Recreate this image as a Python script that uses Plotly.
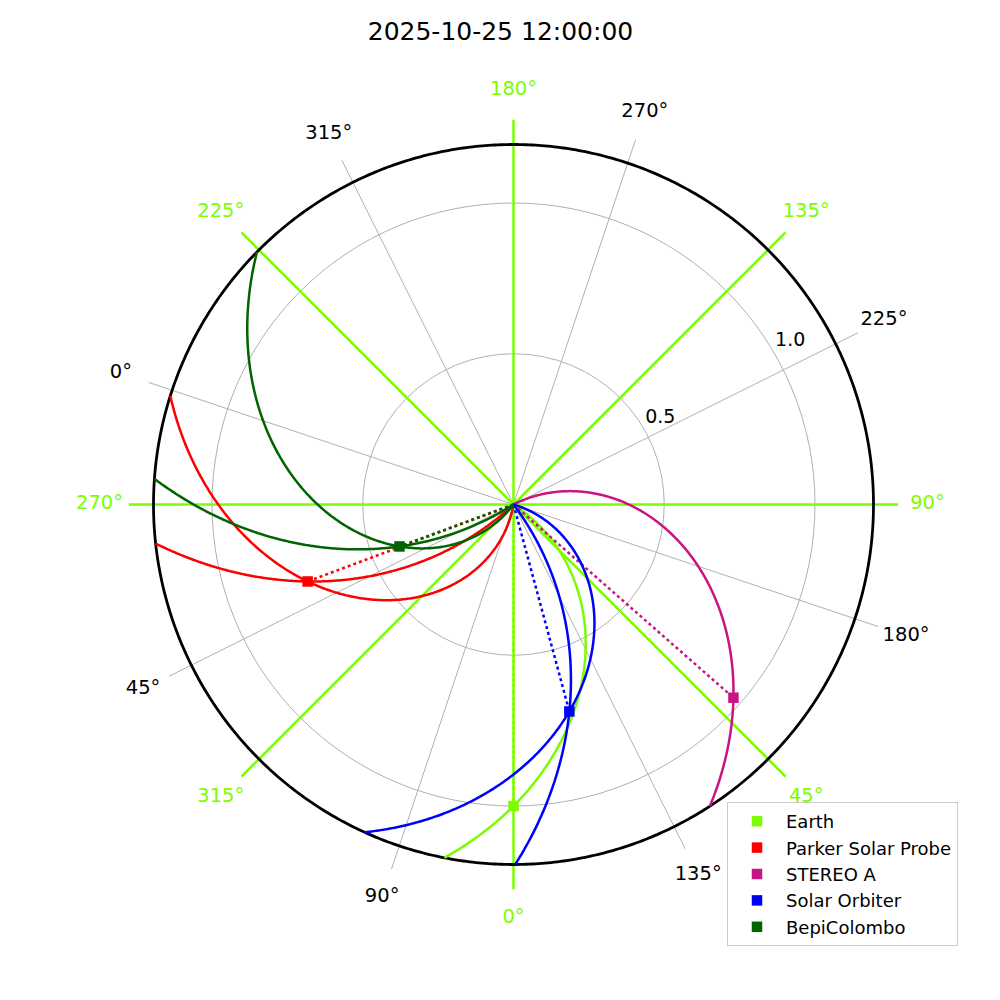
import numpy as np
import plotly.graph_objects as go

# ---------------- data ----------------
title_text = "2025-10-25 12:00:00"
body_names = ["Earth", "Parker Solar Probe", "STEREO A", "Solar Orbiter", "BepiColombo"]
body_colors = ["#7CFC00", "#FF0000", "#C71585", "#0000FF", "#006400"]
body_r_au = [1.0, 0.729, 0.971, 0.711, 0.403]          # heliocentric distance (AU)
body_lon_stony = [0.0, -69.5, 48.7, 15.1, -69.8]       # Stonyhurst longitude (deg)
body_vsw = [[430], [300, 800], [350], [300, 800], [300, 800]]  # solar wind speeds (km/s)
earth_carr_lon = 108.5                                  # Carrington longitude of Earth (deg)

stony_ticks = [0, 45, 90, 135, 180, 225, 270, 315]
carr_ticks = [0, 45, 90, 135, 180, 225, 270, 315]
radial_ticks = [0.5, 1.0]
radial_tick_labels = ["0.5", "1.0"]

# ---------------- layout constants ----------------
FONT = "DejaVu Sans"
GREEN = "#7CFC00"
R_OUTER = 1.194     # black boundary circle
R_SPOKE = 1.276     # extent of spoke lines
R_LABEL = 1.373     # angular tick label radius
R_RANGE = 1.42      # radial axis range
RLAB_THETA = 120.5  # angle (Stonyhurst) of radial tick labels
RLAB_R = [0.565, 1.065]

OMEGA = 360.0 / (25.38 * 86400.0)   # deg / s
AU_KM = 1.495978707e8

fig = go.Figure()

# ---- Carrington grid (bottom polar) ----
for t in carr_ticks:
    fig.add_trace(go.Scatterpolar(
        r=[0, R_SPOKE], theta=[t, t], mode="lines",
        line=dict(color="#b0b0b0", width=1), showlegend=False,
        hoverinfo="skip", subplot="polar"))
fig.add_trace(go.Scatterpolar(
    r=[R_LABEL] * len(carr_ticks), theta=carr_ticks,
    text=[f"{t}°" for t in carr_ticks], mode="text",
    textfont=dict(family=FONT, size=19.5, color="black"),
    showlegend=False, hoverinfo="skip", subplot="polar"))

# ---- Stonyhurst grid (top polar) ----
for t in stony_ticks:
    fig.add_trace(go.Scatterpolar(
        r=[0, R_SPOKE], theta=[t, t], mode="lines",
        line=dict(color=GREEN, width=2.5), showlegend=False,
        hoverinfo="skip", subplot="polar2"))

# outer circle
circ_theta = np.linspace(0, 360, 721)
fig.add_trace(go.Scatterpolar(
    r=np.full_like(circ_theta, R_OUTER), theta=circ_theta, mode="lines",
    line=dict(color="black", width=2.8), showlegend=False, hoverinfo="skip",
    subplot="polar2"))

# field lines, sun-body lines
r_line = np.linspace(0, R_OUTER, 300)
for name, col, rb, lon, vlist in zip(body_names, body_colors, body_r_au, body_lon_stony, body_vsw):
    for v in vlist:
        k = OMEGA * AU_KM / v
        phi = lon + k * (rb - r_line)
        fig.add_trace(go.Scatterpolar(
            r=r_line, theta=phi, mode="lines", line=dict(color=col, width=2.5),
            showlegend=False, hoverinfo="skip", subplot="polar2"))
    fig.add_trace(go.Scatterpolar(
        r=[0, rb], theta=[lon, lon], mode="lines",
        line=dict(color=col, width=2.5, dash="dot"),
        showlegend=False, hoverinfo="skip", subplot="polar2"))

# body markers (legend entries)
for name, col, rb, lon in zip(body_names, body_colors, body_r_au, body_lon_stony):
    fig.add_trace(go.Scatterpolar(
        r=[rb], theta=[lon], mode="markers", name=name, legendgroup=name,
        marker=dict(symbol="square", size=10.5, color=col),
        subplot="polar2"))

# Stonyhurst tick labels
fig.add_trace(go.Scatterpolar(
    r=[R_LABEL] * len(stony_ticks), theta=stony_ticks,
    text=[f"{t}°" for t in stony_ticks], mode="text",
    textfont=dict(family=FONT, size=19.5, color=GREEN),
    showlegend=False, hoverinfo="skip", subplot="polar2"))

# radial tick labels
fig.add_trace(go.Scatterpolar(
    r=RLAB_R, theta=[RLAB_THETA] * len(RLAB_R),
    text=radial_tick_labels, mode="text",
    textfont=dict(family=FONT, size=19, color="black"),
    showlegend=False, hoverinfo="skip", subplot="polar2"))

# page body adds ~8px offset; compensate
cx, cy, scale = 0.5055, 0.5035, 0.3015   # center (paper), px per AU / 1000
half = R_RANGE * scale
dom_x = [cx - half, cx + half]
dom_y = [cy - half, cy + half]

fig.update_layout(
    width=1000, height=1000,
    margin=dict(l=0, r=0, t=0, b=0),
    paper_bgcolor="white",
    font=dict(family=FONT, color="black"),
    title=dict(text=title_text, x=0.4925, xanchor="center", y=0.977, yanchor="middle",
               yref="container", font=dict(family=FONT, size=25, color="black")),
    polar=dict(
        domain=dict(x=dom_x, y=dom_y),
        bgcolor="white",
        angularaxis=dict(rotation=270 - earth_carr_lon, direction="counterclockwise",
                         showticklabels=False, ticks="", showline=False, showgrid=False),
        radialaxis=dict(range=[0, R_RANGE], tickmode="array", tickvals=radial_ticks,
                        showticklabels=False, ticks="", showline=False,
                        gridcolor="#b0b0b0", gridwidth=1),
    ),
    polar2=dict(
        domain=dict(x=dom_x, y=dom_y),
        bgcolor="rgba(0,0,0,0)",
        angularaxis=dict(rotation=270, direction="counterclockwise",
                         showticklabels=False, ticks="", showline=False, showgrid=False),
        radialaxis=dict(range=[0, R_RANGE], showgrid=False, showticklabels=False,
                        ticks="", showline=False),
    ),
    legend=dict(x=0.719, y=0.206, xanchor="left", yanchor="top",
                bgcolor="white", bordercolor="#cccccc", borderwidth=1,
                font=dict(family=FONT, size=18, color="black"),
                itemwidth=48, tracegroupgap=0),
    showlegend=True,
)

fig.write_html("out.html")
